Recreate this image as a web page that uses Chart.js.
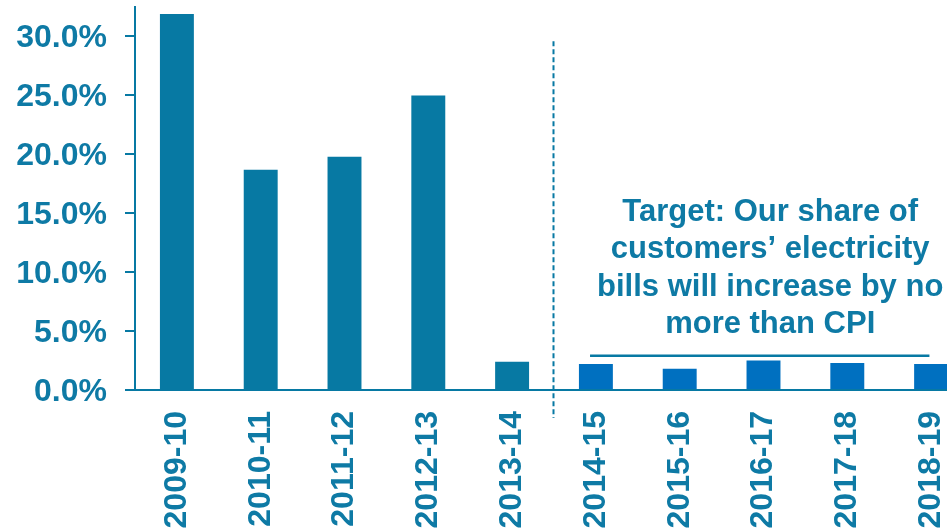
<!DOCTYPE html>
<html>
<head>
<meta charset="utf-8">
<script src="https://cdn.jsdelivr.net/npm/chart.js@4/dist/chart.umd.min.js"></script>
<style>
html,body{margin:0;padding:0;background:#fff;overflow:hidden}
#wrap{width:990px;height:531px;position:relative}
</style>
</head>
<body>
<div id="wrap"><canvas id="billChart"></canvas></div>
<script>
let years=["2009-10","2010-11","2011-12","2012-13","2013-14","2014-15","2015-16","2016-17","2017-18","2018-19"]
let shareGrowth=[31.9,18.7,19.8,25.0,2.4,2.2,1.8,2.5,2.3,2.2]
let actualYears=5
let yMax=32.5
let yStep=5
let cpiLevel=2.9
let dividerTop=29.6
let targetNote=["Target: Our share of","customers\u2019 electricity","bills will increase by no","more than CPI"]

let teal="#0779A3"
let blue="#0070C0"
let textTeal="#0E7AA5"

let barColors=shareGrowth.map((v,i)=>i<actualYears?teal:blue)

// divider between actual and forecast years, CPI target line and the note
let targetPlugin={
id:"targetPlugin",
afterDraw(chart){
let ctx=chart.ctx
let x=chart.scales.x
let y=chart.scales.y
let step=x.getPixelForValue(1)-x.getPixelForValue(0)
let xAt=i=>x.getPixelForValue(0)+i*step

ctx.save()

// dashed divider
ctx.strokeStyle=teal
ctx.lineWidth=2
ctx.setLineDash([5,3])
ctx.beginPath()
let dx=Math.round(xAt(actualYears-0.5))-0.5
ctx.moveTo(dx,y.getPixelForValue(dividerTop))
ctx.lineTo(dx,y.bottom+28)
ctx.stroke()

// CPI line
ctx.setLineDash([])
ctx.lineWidth=2.5
ctx.beginPath()
let ly=y.getPixelForValue(cpiLevel)
ctx.moveTo(xAt(actualYears-0.07),ly)
ctx.lineTo(xAt(shareGrowth.length-1.02),ly)
ctx.stroke()

// note text
ctx.fillStyle=textTeal
ctx.font="bold 31px 'Liberation Sans', Arial, sans-serif"
ctx.textAlign="center"
ctx.textBaseline="alphabetic"
let cx=xAt(7.08)
targetNote.forEach((line,i)=>{
ctx.fillText(line,cx,y.top+214+i*37.4)
})

ctx.restore()
}
}

let billChart=new Chart(document.getElementById("billChart"),{

type:"bar",

data:{
labels:years,
datasets:[{
label:"Share of bill increase",
data:shareGrowth,
backgroundColor:barColors,
borderWidth:0,
barPercentage:0.405,
categoryPercentage:1
}]
},

options:{
responsive:true,
maintainAspectRatio:false,
devicePixelRatio:1,
animation:false,
layout:{padding:{top:7,right:17,left:0,bottom:0}},
plugins:{
legend:{display:false},
tooltip:{enabled:false}
},
scales:{
x:{
grid:{display:false,drawTicks:false},
border:{display:true,color:teal,width:2},
ticks:{
color:textTeal,
font:{family:"'Liberation Sans', Arial, sans-serif",size:32,weight:"bold"},
minRotation:90,
maxRotation:90,
autoSkip:false,
padding:21
},
afterFit(scale){
scale.height=141
scale.paddingLeft=0
scale.paddingRight=0
}
},
y:{
min:0,
max:yMax,
grid:{drawOnChartArea:false,drawTicks:true,tickLength:10,color:teal,lineWidth:2},
border:{display:true,color:teal,width:2},
ticks:{
stepSize:yStep,
includeBounds:false,
color:textTeal,
padding:18,
labelOffset:2,
font:{family:"'Liberation Sans', Arial, sans-serif",size:32,weight:"bold"},
callback:v=>v.toFixed(1)+"%"
},
afterFit(scale){
scale.width=135
scale.paddingTop=0
scale.paddingBottom=0
}
}
}
},

plugins:[targetPlugin]

})
</script>
</body>
</html>
